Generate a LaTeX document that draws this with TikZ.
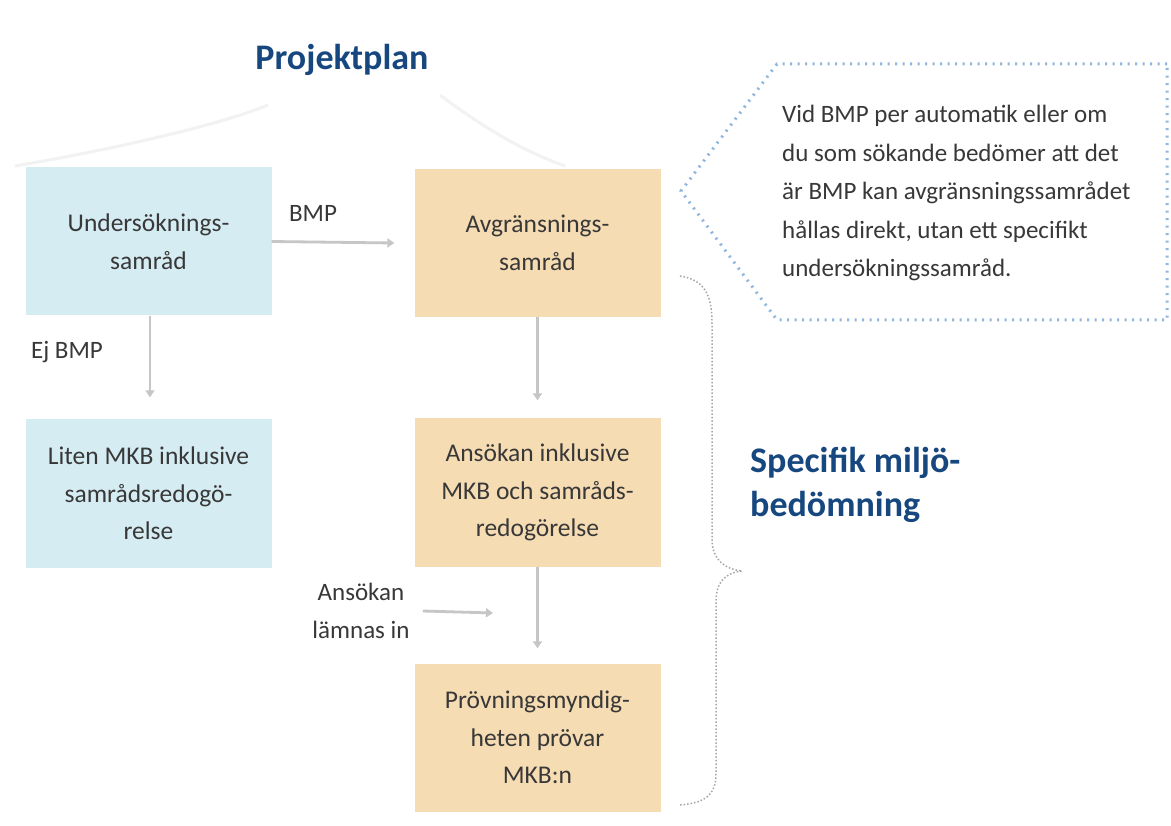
\documentclass[tikz,border=0pt]{standalone}
\usepackage{fontspec}
\setmainfont{Carlito}
\usetikzlibrary{arrows.meta,calc}
\definecolor{bluefill}{HTML}{D6ECF3}
\definecolor{orangefill}{HTML}{F6DCB3}
\definecolor{titleblue}{HTML}{17477F}
\definecolor{dotblue}{HTML}{8FB6DE}
\definecolor{txt}{HTML}{383838}
\definecolor{arrgray}{HTML}{C6C6C6}
\tikzset{
  boxbase/.style={minimum width=246pt, minimum height=148pt, align=center, text=txt,
    font=\fontsize{25.5}{37.5}\selectfont, inner sep=0pt},
  bluebox/.style={boxbase, fill=bluefill},
  orangebox/.style={boxbase, fill=orangefill},
  arr/.style={draw=arrgray, line width=2.8pt, -{Triangle[width=9pt,length=7pt]}},
  lbl/.style={text=txt, font=\fontsize{25}{38}\selectfont, inner sep=0pt, align=center},
  ttl/.style={text=titleblue, font=\fontsize{36}{40}\selectfont\bfseries, inner sep=0pt},
  dotline/.style={dotblue, line width=3pt, dash pattern=on 2pt off 5.5pt}
}
\begin{document}
\begin{tikzpicture}[x=1pt,y=-1pt]
\useasboundingbox[fill=white] (0,0) rectangle (1171,826);
% faint projektplan brace
\draw[black!5, line width=3pt] (15,166) .. controls (110,150) and (220,125) .. (268,105);
\draw[black!5, line width=3pt] (440,95) .. controls (480,125) and (520,150) .. (565,166);
% boxes
\node[bluebox] (und) at (148.5,241.5) {Undersöknings-\\samråd};
\node[bluebox] (liten) at (148.5,493.5) {Liten MKB inklusive\\samrådsredogö-\\relse};
\node[orangebox] (avg) at (537.5,243) {Avgränsnings-\\samråd};
\node[orangebox] (ans) at (537.5,492.5) {Ansökan inklusive\\MKB och samråds-\\redogörelse};
\node[orangebox] (prov) at (537.5,737.5) {Prövningsmyndig-\\heten prövar\\MKB:n};
% labels
\node[lbl] (bmp) at (313,213) {BMP};
\node[lbl] (ejbmp) at (67,352) {Ej BMP};
\node[lbl] (lamnas) at (361,611) {Ansökan\\lämnas in};
\coordinate (lamnasend) at (493,613);
% arrows
\draw[arr] (und.east) -- ([xshift=-20pt]avg.west);
\draw[arr] ([xshift=1.5pt]und.south) -- ([xshift=1.5pt,yshift=22pt]liten.north);
\draw[arr] (avg.south) -- ([yshift=18pt]ans.north);
\draw[arr] (ans.south) -- ([yshift=15pt]prov.north);
\draw[arr] ([xshift=13pt]lamnas.east) -- (lamnasend);
% titles
\node[ttl] (proj) at (342,60) {Projektplan};
\node[ttl, anchor=west, align=left, font=\fontsize{36}{44}\selectfont\bfseries] (spec) at (750,485) {Specifik miljö-\\bedömning};
% callout
\draw[dotline] (1167,64) -- (777,64) -- (681,191) -- (777,320) -- (1167,320) -- cycle;
\node[lbl, align=left, anchor=west, font=\fontsize{25}{38.5}\selectfont] (note) at (782,193) {Vid BMP per automatik eller om\\du som sökande bedömer att det\\är BMP kan avgränsningssamrådet\\hållas direkt, utan ett specifikt\\undersökningssamråd.};
% right brace
\draw[black!35, line width=1.5pt, dotted] (680,276) .. controls (705,280) and (712,295) .. (712,324)
  -- (712,539) .. controls (712,560) and (725,569) .. (742,571)
  .. controls (725,573) and (716,582) .. (716,602)
  -- (716,774) .. controls (716,795) and (705,803) .. (680,805);
\end{tikzpicture}
\end{document}
